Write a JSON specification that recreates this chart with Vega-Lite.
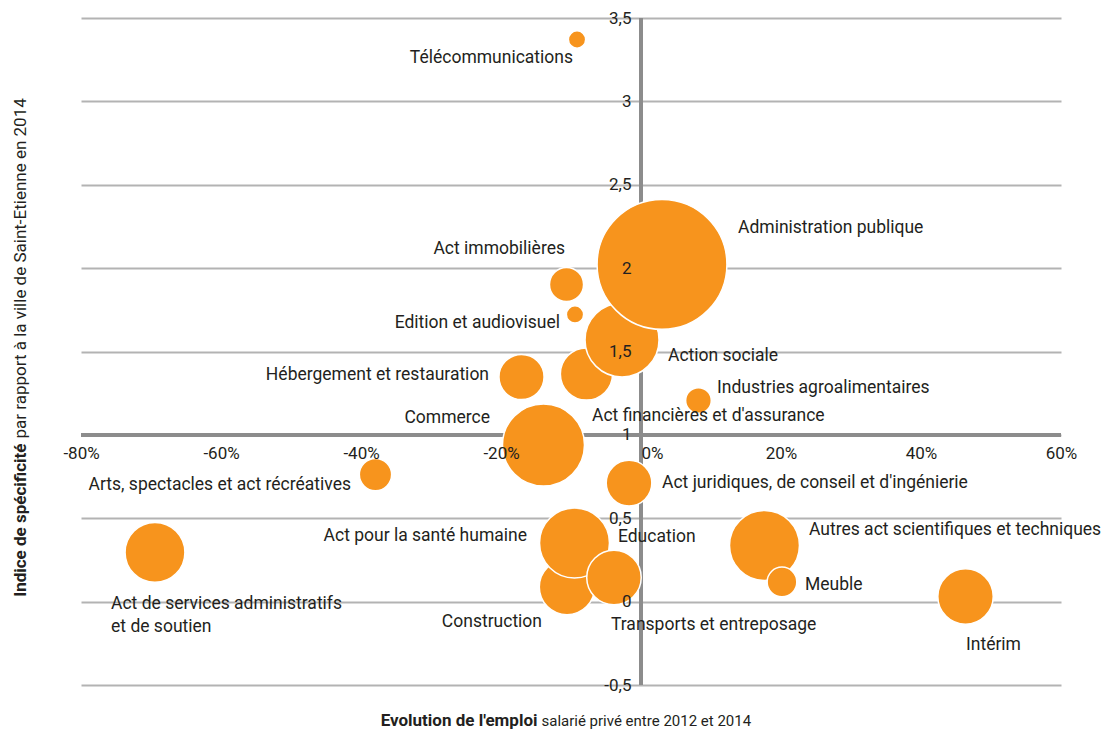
{
  "$schema": "https://vega.github.io/schema/vega-lite/v6.json",
  "width": 980,
  "height": 667,
  "autosize": {"type": "none"},
  "padding": {"left": 81, "top": 18, "right": 40, "bottom": 51},
  "background": "white",
  "config": {
    "view": {"stroke": null},
    "font": "Roboto"
  },
  "datasets": {
    "secteurs": [
      {"secteur": "Télécommunications", "evol": -9.14, "indice": 3.371, "emplois": 190, "lx": -9.71, "ly": 3.26, "side": "right"},
      {"secteur": "Act immobilières", "evol": -10.64, "indice": 1.902, "emplois": 740, "lx": -10.86, "ly": 2.115, "side": "right"},
      {"secteur": "Edition et audiovisuel", "evol": -9.43, "indice": 1.722, "emplois": 190, "lx": -11.57, "ly": 1.671, "side": "right"},
      {"secteur": "Act financières et d'assurance", "evol": -7.79, "indice": 1.365, "emplois": 1735, "lx": -7.0, "ly": 1.113, "side": "left"},
      {"secteur": "Action sociale", "evol": -2.71, "indice": 1.569, "emplois": 3485, "lx": 3.86, "ly": 1.473, "side": "left"},
      {"secteur": "Administration publique", "evol": 3.0, "indice": 2.022, "emplois": 10730, "lx": 13.86, "ly": 2.241, "side": "left"},
      {"secteur": "Hébergement et restauration", "evol": -17.07, "indice": 1.347, "emplois": 1295, "lx": -21.71, "ly": 1.359, "side": "right"},
      {"secteur": "Commerce", "evol": -13.93, "indice": 0.939, "emplois": 4280, "lx": -21.57, "ly": 1.101, "side": "right"},
      {"secteur": "Industries agroalimentaires", "evol": 8.21, "indice": 1.206, "emplois": 420, "lx": 10.86, "ly": 1.281, "side": "left"},
      {"secteur": "Act juridiques, de conseil et d'ingénierie", "evol": -1.71, "indice": 0.711, "emplois": 1325, "lx": 3.0, "ly": 0.711, "side": "left"},
      {"secteur": "Arts, spectacles et act récréatives", "evol": -37.93, "indice": 0.762, "emplois": 665, "lx": -41.43, "ly": 0.699, "side": "right"},
      {"secteur": "Act de services administratifs|et de soutien", "evol": -69.43, "indice": 0.295, "emplois": 2280, "lx": -75.71, "ly": -0.014, "side": "left"},
      {"secteur": "Education", "evol": -9.5, "indice": 0.352, "emplois": 2000, "lx": -3.29, "ly": 0.388, "side": "left"},
      {"secteur": "Construction", "evol": -10.57, "indice": 0.088, "emplois": 1955, "lx": -14.14, "ly": -0.122, "side": "right"},
      {"secteur": "Act pour la santé humaine", "evol": -9.5, "indice": 0.352, "emplois": 3115, "lx": -16.29, "ly": 0.394, "side": "right"},
      {"secteur": "Transports et entreposage", "evol": -3.86, "indice": 0.145, "emplois": 1890, "lx": -4.29, "ly": -0.14, "side": "left"},
      {"secteur": "Autres act scientifiques et techniques", "evol": 17.64, "indice": 0.337, "emplois": 3115, "lx": 24.0, "ly": 0.43, "side": "left"},
      {"secteur": "Meuble", "evol": 20.14, "indice": 0.118, "emplois": 560, "lx": 23.43, "ly": 0.1, "side": "left"},
      {"secteur": "Intérim", "evol": 46.36, "indice": 0.031, "emplois": 1955, "lx": 46.43, "ly": -0.26, "side": "left"}
    ],
    "axe_x": [{"evol": 0}],
    "axe_y": [{"indice": 1}]
  },
  "resolve": {"axis": {"x": "independent", "y": "independent"}},
  "layer": [
    {
      "data": {"name": "axe_x"},
      "mark": {"type": "rule", "color": "#8c8c8c", "strokeWidth": 4},
      "encoding": {
        "x": {
          "field": "evol", "type": "quantitative",
          "scale": {"domain": [-80, 60], "nice": false, "zero": false},
          "axis": {
            "orient": "bottom", "title": "Evolution de l'emploi",
            "titleFontWeight": "bold", "titleFontSize": 17, "titleColor": "#231f20",
            "titleAlign": "right", "titleX": 456, "titleY": 35, "titleBaseline": "middle",
            "labels": false, "ticks": false, "domain": false, "grid": false
          }
        }
      }
    },
    {
      "data": {"name": "axe_y"},
      "mark": {"type": "rule", "color": "#8c8c8c", "strokeWidth": 4},
      "encoding": {
        "y": {
          "field": "indice", "type": "quantitative",
          "scale": {"domain": [-0.5, 3.5], "nice": false, "zero": false},
          "axis": {
            "orient": "left", "title": "Indice de spécificité",
            "titleFontWeight": "bold", "titleFontSize": 17, "titleColor": "#231f20",
            "titleAngle": -90, "titleAlign": "right", "titleX": -61, "titleY": 425, "titleBaseline": "middle",
            "labels": false, "ticks": false, "domain": false, "grid": false
          }
        }
      }
    },
    {
      "data": {"name": "secteurs"},
      "mark": {"type": "circle", "fill": "#f7941d", "fillOpacity": 1, "opacity": 1, "stroke": "white", "strokeWidth": 1.5},
      "encoding": {
        "x": {
          "field": "evol", "type": "quantitative",
          "scale": {"domain": [-80, 60], "nice": false, "zero": false},
          "axis": {
            "orient": "bottom", "title": "salarié privé entre 2012 et 2014",
            "titleFontWeight": "normal", "titleFontSize": 15, "titleColor": "#231f20",
            "titleAlign": "left", "titleX": 460, "titleY": 35, "titleBaseline": "middle",
            "labels": false, "ticks": false, "domain": false, "grid": false
          }
        },
        "y": {
          "field": "indice", "type": "quantitative",
          "scale": {"domain": [-0.5, 3.5], "nice": false, "zero": false},
          "axis": {
            "orient": "left", "title": "par rapport à la ville de Saint-Etienne en 2014",
            "titleFontWeight": "normal", "titleFontSize": 17, "titleColor": "#231f20",
            "titleAngle": -90, "titleAlign": "left", "titleX": -61, "titleY": 420, "titleBaseline": "middle",
            "values": [-0.5, 0, 0.5, 1, 1.5, 2, 2.5, 3, 3.5],
            "grid": true, "gridColor": "#b3b3b3", "gridWidth": 2, "gridOpacity": 1,
            "labels": false, "ticks": false, "domain": false, "zindex": 0
          }
        },
        "size": {
          "field": "emplois", "type": "quantitative",
          "scale": {"type": "linear", "domain": [0, 12000], "range": [0, 18850], "zero": true},
          "legend": null
        }
      }
    },
    {
      "data": {"name": "secteurs"},
      "transform": [{"filter": "datum.side === 'left'"}],
      "mark": {"type": "text", "align": "left", "baseline": "middle", "fontSize": 17.5, "color": "#231f20", "lineBreak": "|", "lineHeight": 23},
      "encoding": {
        "x": {
          "field": "lx", "type": "quantitative",
          "scale": {"domain": [-80, 60], "nice": false, "zero": false},
          "axis": {
            "orient": "bottom", "offset": -250, "title": null,
            "values": [-80, -60, -40, -20, 0, 20, 40, 60],
            "labelExpr": "datum.value + '%'",
            "labelFontSize": 17, "labelColor": "#231f20", "labelBaseline": "top", "labelPadding": 10,
            "labelAlign": {"condition": {"test": "datum.value === 0", "value": "left"}, "value": "center"},
            "labelFlush": false, "labelOverlap": false,
            "ticks": false, "domain": false, "grid": false, "zindex": 1
          }
        },
        "y": {
          "field": "ly", "type": "quantitative",
          "scale": {"domain": [-0.5, 3.5], "nice": false, "zero": false},
          "axis": {
            "orient": "left", "offset": -560, "title": null,
            "values": [-0.5, 0, 0.5, 1, 1.5, 2, 2.5, 3, 3.5],
            "labelExpr": "replace(toString(datum.value), '.', ',')",
            "labelFontSize": 17, "labelColor": "#231f20", "labelBaseline": "middle", "labelAlign": "right", "labelPadding": 10,
            "labelFlush": false, "labelOverlap": false,
            "ticks": false, "domain": false, "grid": false, "zindex": 1
          }
        },
        "text": {"field": "secteur", "type": "nominal"}
      }
    },
    {
      "data": {"name": "secteurs"},
      "transform": [{"filter": "datum.side === 'right'"}],
      "mark": {"type": "text", "align": "right", "baseline": "middle", "fontSize": 17.5, "color": "#231f20"},
      "encoding": {
        "x": {"field": "lx", "type": "quantitative", "scale": {"domain": [-80, 60], "nice": false, "zero": false}, "axis": null},
        "y": {"field": "ly", "type": "quantitative", "scale": {"domain": [-0.5, 3.5], "nice": false, "zero": false}, "axis": null},
        "text": {"field": "secteur", "type": "nominal"}
      }
    }
  ]
}
